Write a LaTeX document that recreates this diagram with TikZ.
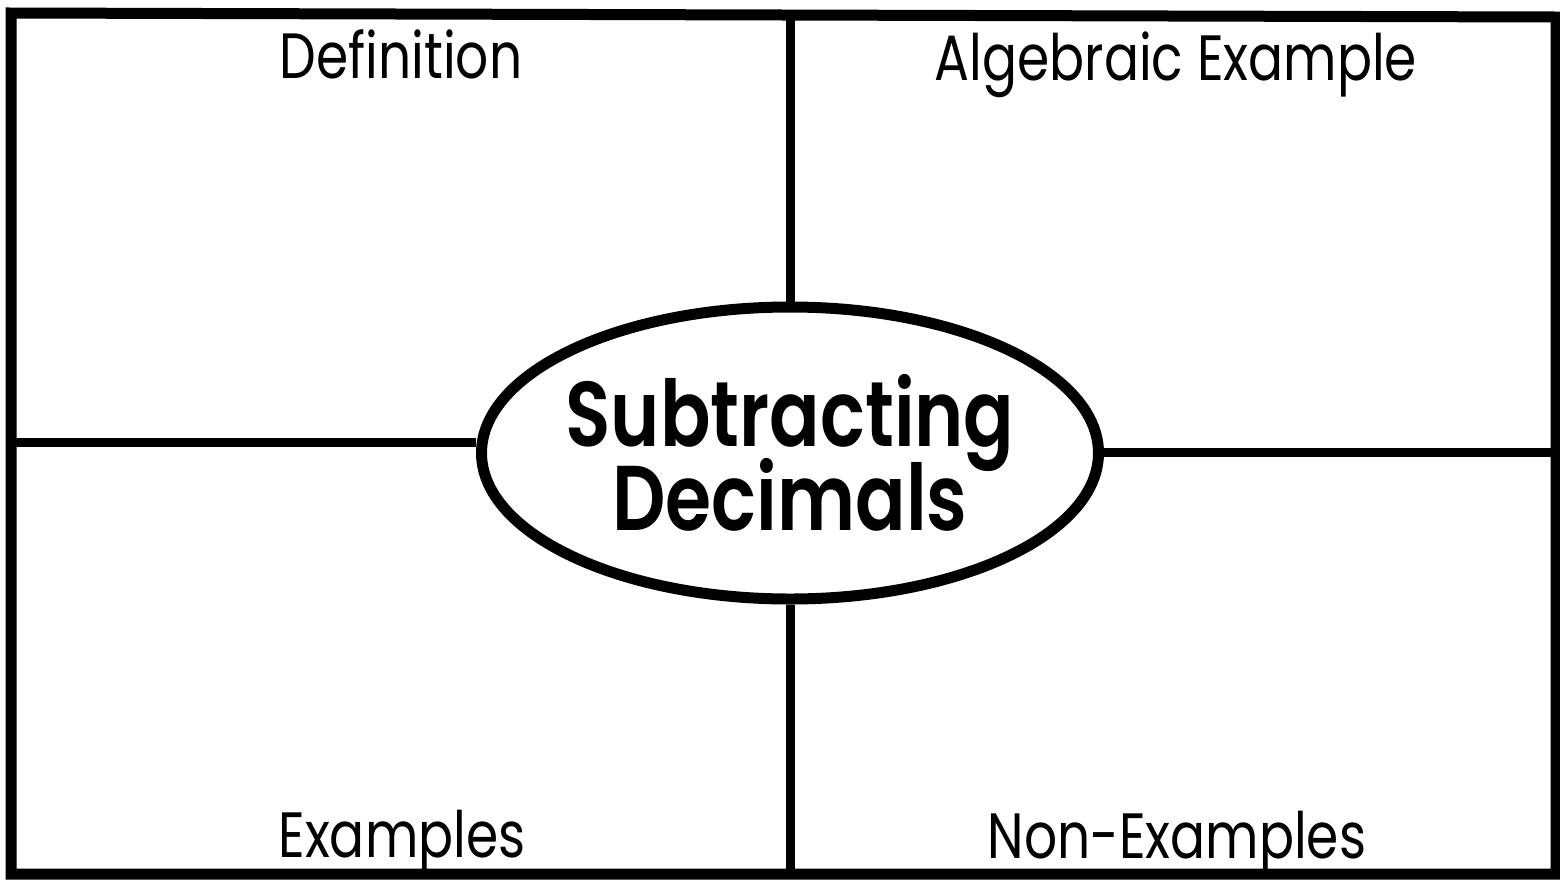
\documentclass[tikz,border=0pt]{standalone}
\usepackage{fontspec}
\setmainfont{Poppins}[FakeStretch=0.81]
\newfontfamily\titlefont{Poppins}[FakeStretch=0.81, UprightFont=* SemiBold]
\usetikzlibrary{shapes.geometric}
\begin{document}
\begin{tikzpicture}[x=1pt,y=-1pt,
  frame/.style={line width=11pt, line join=miter},
  divider/.style={line width=9pt},
  celllabel/.style={font=\fontsize{64}{70}\selectfont, anchor=base, inner sep=0pt},
  title/.style={ellipse, draw, line width=11pt, minimum width=617pt, minimum height=292pt,
    inner xsep=-120pt, inner ysep=-40pt, align=center, font=\titlefont\fontsize{92}{85}\selectfont}]
\useasboundingbox (0,0) rectangle (1560,879);
\coordinate (tl) at (11,13);
\coordinate (tr) at (1556,17);
\coordinate (br) at (1556,874);
\coordinate (bl) at (11,874);
\draw[frame] (tl) -- (tr) -- (br) -- (bl) -- cycle;
\node[title] (c) at (790,453) {Subtracting\\[-14pt]Decimals};
\coordinate (vt) at (790,15);
\coordinate (vb) at (790,874);
\coordinate (hl) at (11,442);
\coordinate (hr) at (1556,452);
\draw[divider] (vt) -- (c.north);
\draw[divider] (c.south) -- (vb);
\draw[divider] (hl) -- (hl -| c.west);
\draw[divider] (hr -| c.east) -- (hr);
\node[celllabel] (def) at (401,78) {Definition};
\node[celllabel] (alg) at (1176,80) {Algebraic Example};
\node[celllabel] (ex) at (402,857) {Examples};
\node[celllabel] (nonex) at (1177,858) {Non-Examples};
\end{tikzpicture}
\end{document}
